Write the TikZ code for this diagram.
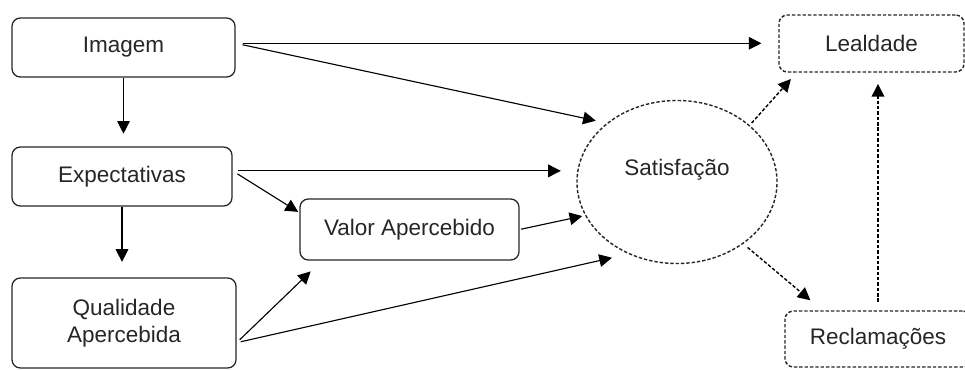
\documentclass[tikz,border=0pt]{standalone}
\usepackage{fontspec}
\setmainfont{Liberation Sans}
\usetikzlibrary{arrows.meta,shapes.geometric}

\begin{document}
\begin{tikzpicture}[x=0.025cm,y=-0.025cm,
    txt/.style={font=\fontsize{16}{19}\selectfont,text=black!85},
    box/.style={txt,draw=black!85,line width=0.9pt,rounded corners=6pt,align=center},
    dbox/.style={box,line width=1pt,dash pattern=on 2.4pt off 1.4pt},
    arr/.style={-{Triangle[length=9pt,width=9pt]},line width=0.8pt},
    darr/.style={arr,line width=1pt,dash pattern=on 2.4pt off 1.4pt}]
  \useasboundingbox (0,0) rectangle (965,369);
  % left column
  \node[box,minimum width=5.575cm,minimum height=1.475cm] (imagem) at (123.5,47.5) {Imagem};
  \node[box,minimum width=5.5cm,minimum height=1.475cm] (expect) at (122,176.5) {Expectativas};
  \node[box,minimum width=5.6cm,minimum height=2.25cm] (qualid) at (124,323) {Qualidade\\Apercebida};
  \node[box,minimum width=5.475cm,minimum height=1.525cm] (valor) at (409.5,229.5) {Valor Apercebido};
  % right side
  \node[draw=black!85,line width=1pt,dash pattern=on 2.4pt off 1.4pt,ellipse,
        minimum width=5cm,minimum height=4.075cm,
        label={[txt,yshift=8.5pt]center:Satisfação}] (satisf) at (677,182) {};
  \node[dbox,minimum width=4.625cm,minimum height=1.425cm] (lealdade) at (871.5,43.5) {Lealdade};
  \node[dbox,minimum width=4.65cm,minimum height=1.4cm] (reclam) at (878,339) {Reclamações};
  % connectors
  \draw[arr,shorten >=9pt] (imagem.south) -- (imagem.south |- expect.north);
  \draw[arr,shorten >=11pt] (expect.south) -- (expect.south |- qualid.north);
  \draw[arr,shorten <=5pt,shorten >=12pt] ([yshift=3pt]imagem.east) -- ([yshift=3pt]imagem.east -| lealdade.west);
  \draw[arr,shorten <=5pt,shorten >=8pt] ([yshift=3pt]imagem.east) -- (satisf.140);
  \draw[arr,shorten <=4pt,shorten >=11pt] ([yshift=4pt]expect.east) -- ([yshift=4pt]expect.east -| satisf.west);
  \draw[arr,shorten <=4pt,shorten >=1pt] ([yshift=4pt]expect.east) -- ([yshift=12pt]valor.west);
  \draw[arr,shorten <=1pt,shorten >=2pt] (valor.east) -- (satisf.200);
  \draw[arr,shorten <=3pt,shorten >=11pt] ([yshift=-14pt]qualid.east) -- ([xshift=16pt]valor.south west);
  \draw[arr,shorten <=3pt,shorten >=12pt] ([yshift=-14pt]qualid.east) -- (satisf.236);
  \draw[darr,shorten <=2pt,shorten >=6pt] (satisf.38) -- ([xshift=13pt]lealdade.south west);
  \draw[darr,shorten <=4pt,shorten >=11pt] (satisf.317) -- ([xshift=27pt]reclam.north west);
  \draw[darr,shorten <=6pt,shorten >=8pt] (reclam.north) -- (reclam.north |- lealdade.south);
\end{tikzpicture}
\end{document}
